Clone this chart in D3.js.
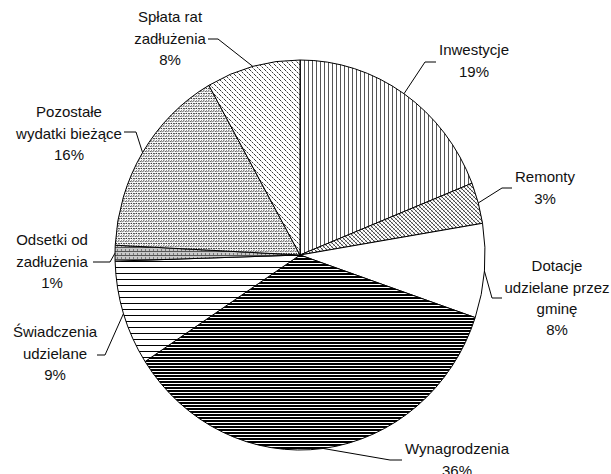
<!DOCTYPE html>
<html lang="pl">
<head>
  <meta charset="UTF-8" />
  <title>Struktura wydatków</title>
  <script src="https://d3js.org/d3.v7.min.js"></script>
  <style>
    body { margin: 0; background: #fff; }
    svg { display: block; }
    .label { font-family: "Liberation Sans", Arial, sans-serif; font-size: 15px; fill: #111; }
    .leader { fill: none; stroke: #000; stroke-width: 1; }
  </style>
</head>
<body>
<svg id="chart" width="611" height="474"></svg>
<script>
// data, clockwise from 12 o'clock
const categories = ["Inwestycje", "Remonty", "Dotacje udzielane przez gminę", "Wynagrodzenia",
  "Świadczenia udzielane", "Odsetki od zadłużenia", "Pozostałe wydatki bieżące", "Spłata rat zadłużenia"];
const shares = [19.0, 3.4, 7.8, 35.6, 8.7, 1.3, 16.0, 8.2];
const labelLines = [
  ["Inwestycje"],
  ["Remonty"],
  ["Dotacje", "udzielane przez", "gminę"],
  ["Wynagrodzenia"],
  ["Świadczenia", "udzielane"],
  ["Odsetki od", "zadłużenia"],
  ["Pozostałe", "wydatki bieżące"],
  ["Spłata rat", "zadłużenia"]
];
const fills = ["url(#pVert)", "url(#pCross)", "#fff", "url(#pDense)", "url(#pHoriz)",
  "url(#pGrid)", "url(#pStipple)", "url(#pDash)"];

// label layout: text centre x, first line centre y, leader elbow and end
const labelPos = [
  { x: 474, y: 50, elbow: [425, 62], end: [436, 62] },
  { x: 545, y: 177, elbow: [502, 188], end: [512, 188] },
  { x: 557, y: 266, elbow: [492, 298], end: [502, 298] },
  { x: 457, y: 449, elbow: [390, 460], end: [402, 460] },
  { x: 55, y: 332, elbow: [105, 355], end: [97, 355] },
  { x: 52, y: 240, elbow: [110, 262], end: [93, 262] },
  { x: 69, y: 112, elbow: [136, 132], end: [124, 132] },
  { x: 170, y: 17, elbow: [218, 39], end: [208, 39] }
];
const lineH = 21.3;

const cx = 300, cy = 255, rx = 185, ry = 195;

const svg = d3.select("#chart");
const defs = svg.append("defs");

// patterns live inside the vertically stretched pie group, so undo the stretch
function pattern(id, w, h, bg) {
  const p = defs.append("pattern").attr("id", id)
    .attr("patternUnits", "userSpaceOnUse").attr("width", w).attr("height", h)
    .attr("patternTransform", `scale(1,${rx / ry})`);
  p.append("rect").attr("width", w).attr("height", h).attr("fill", bg);
  return p;
}
pattern("pVert", 4, 4, "#fff")
  .append("rect").attr("x", 0).attr("width", 1).attr("height", 4).attr("fill", "#555");
const pc = pattern("pCross", 4, 4, "#fff");
pc.append("path").attr("d", "M0,0L4,4M-1,3L1,5M3,-1L5,1").attr("stroke", "#333").attr("stroke-width", 0.9);
pc.append("path").attr("d", "M0,4L4,0").attr("stroke", "#888").attr("stroke-width", 0.5);
pattern("pDense", 4, 3, "#fff")
  .append("rect").attr("width", 4).attr("height", 2).attr("fill", "#000");
pattern("pHoriz", 4, 6, "#fff")
  .append("rect").attr("width", 4).attr("height", 1).attr("fill", "#000");
const pg = pattern("pGrid", 4, 4, "#c8c8c8");
pg.append("rect").attr("width", 4).attr("height", 1).attr("fill", "#555");
pg.append("rect").attr("x", 1).attr("y", 2).attr("width", 1).attr("height", 2).attr("fill", "#777");
const ps = pattern("pStipple", 5, 5, "#fff");
ps.append("path").attr("d", "M0.3,1.6q1,-1.4 2.2,0 M2.8,4.1q1,-1.4 2.2,0")
  .attr("fill", "none").attr("stroke", "#222").attr("stroke-width", 1);
ps.append("circle").attr("cx", 1.3).attr("cy", 3.4).attr("r", 0.7).attr("fill", "#222");
ps.append("circle").attr("cx", 3.8).attr("cy", 0.9).attr("r", 0.7).attr("fill", "#222");
pattern("pDash", 5, 5, "#fff")
  .append("path").attr("d", "M0,0L5,5M-2.5,2.5L2.5,7.5M2.5,-2.5L7.5,2.5")
  .attr("stroke", "#222").attr("stroke-width", 0.9).attr("stroke-dasharray", "2,0.8");

const pie = d3.pie().sort(null).value(d => d);
const arcs = pie(shares);
const arc = d3.arc().innerRadius(0).outerRadius(rx);

const g = svg.append("g")
  .attr("transform", `translate(${cx},${cy}) scale(1,${ry / rx})`);

g.selectAll("path")
  .data(arcs)
  .join("path")
  .attr("d", arc)
  .attr("fill", (d, i) => fills[i])
  .attr("stroke", "#000")
  .attr("stroke-width", 1)
  .attr("vector-effect", "non-scaling-stroke");

// leader lines from slice mid-angle on the ellipse edge
const lead = svg.append("g");
arcs.forEach((d, i) => {
  const a = (d.startAngle + d.endAngle) / 2;
  const p0 = [cx + rx * Math.sin(a), cy - ry * Math.cos(a)];
  const pos = labelPos[i];
  lead.append("path").attr("class", "leader")
    .attr("d", d3.line()([p0, pos.elbow, pos.end]));
});

// labels
const lab = svg.append("g");
arcs.forEach((d, i) => {
  const pos = labelPos[i];
  const lines = labelLines[i].concat([Math.round(shares[i]) + "%"]);
  const t = lab.append("text").attr("class", "label").attr("text-anchor", "middle");
  lines.forEach((s, k) => {
    t.append("tspan").attr("x", pos.x).attr("y", pos.y + k * lineH).attr("dy", "0.35em").text(s);
  });
});
</script>
</body>
</html>
